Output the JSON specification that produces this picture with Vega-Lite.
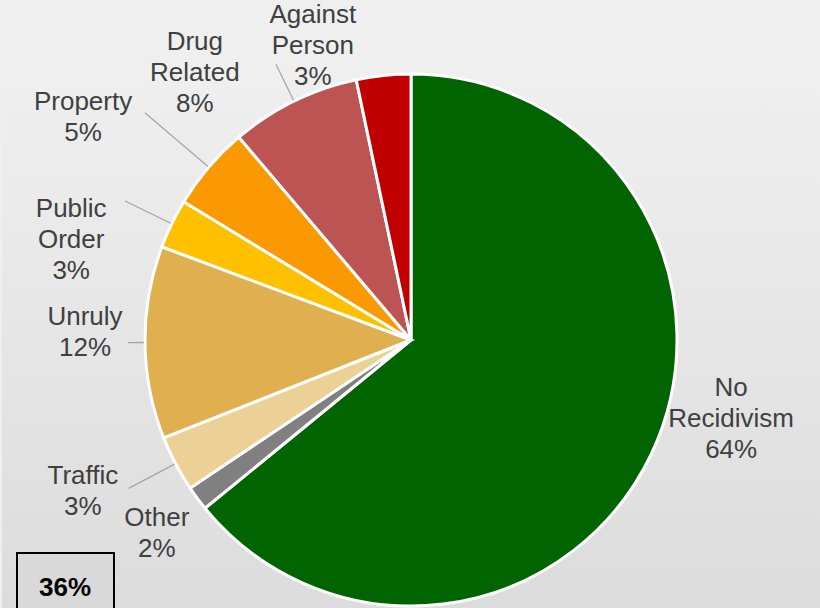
{
  "$schema": "https://vega.github.io/schema/vega-lite/v6.json",
  "width": 818,
  "height": 536,
  "autosize": {"type": "none"},
  "padding": {"left": 2, "top": 72, "right": 0, "bottom": 0},
  "background": "#efefef",
  "view": {
    "stroke": null,
    "fill": {
      "gradient": "linear",
      "x1": 0, "y1": 0, "x2": 0, "y2": 1,
      "stops": [
        {"offset": 0, "color": "#efefef"},
        {"offset": 1, "color": "#dcdcdc"}
      ]
    }
  },
  "config": {"legend": {"strokeWidth": 2}},
  "datasets": {
    "slices": [
      {"category": "No Recidivism", "value": 64.1, "order": 1, "label": "No Recidivism 64%"},
      {"category": "Other", "value": 1.5, "order": 2, "label": "Other 2%"},
      {"category": "Traffic", "value": 3.4, "order": 3, "label": "Traffic 3%"},
      {"category": "Unruly", "value": 11.7, "order": 4, "label": "Unruly 12%"},
      {"category": "Public Order", "value": 3.0, "order": 5, "label": "Public Order 3%"},
      {"category": "Property", "value": 5.1, "order": 6, "label": "Property 5%"},
      {"category": "Drug Related", "value": 7.9, "order": 7, "label": "Drug Related 8%"},
      {"category": "Against Person", "value": 3.3, "order": 8, "label": "Against Person 3%"}
    ],
    "total": [
      {"total": "36%"}
    ]
  },
  "layer": [
    {
      "data": {"name": "slices"},
      "mark": {"type": "arc", "outerRadius": 266, "stroke": "#ffffff", "strokeWidth": 3},
      "encoding": {
        "theta": {"field": "value", "type": "quantitative", "stack": true},
        "order": {"field": "order", "type": "quantitative"},
        "color": {
          "field": "category",
          "type": "nominal",
          "legend": null,
          "scale": {
            "domain": ["No Recidivism", "Other", "Traffic", "Unruly", "Public Order", "Property", "Drug Related", "Against Person"],
            "range": ["#006400", "#808080", "#ebd196", "#dfaf50", "#ffc000", "#fb9902", "#bd5454", "#c00000"]
          }
        }
      }
    },
    {
      "data": {"name": "slices"},
      "mark": {
        "type": "arc",
        "padAngle": 1.2,
        "innerRadius": 267,
        "outerRadius": {"expr": "datum.category=='Traffic'?319:datum.category=='Unruly'?283:datum.category=='Public Order'?318:datum.category=='Property'?350:307"},
        "fill": "#a6a6a6",
        "fillOpacity": 0,
        "stroke": "#a6a6a6",
        "strokeWidth": 1.3,
        "strokeOpacity": {"expr": "indexof(['Traffic','Unruly','Public Order','Property','Drug Related'], datum.category) >= 0 ? 1 : 0"}
      },
      "encoding": {
        "theta": {"field": "value", "type": "quantitative", "stack": true},
        "order": {"field": "order", "type": "quantitative"}
      }
    },
    {
      "data": {"name": "slices"},
      "mark": {
        "type": "text",
        "radius": 330,
        "font": "Liberation Sans",
        "fontSize": 26,
        "color": "#404040",
        "lineBreak": " ",
        "lineHeight": 31,
        "align": "center",
        "baseline": "middle",
        "dx": {"expr": "datum.category=='No Recidivism'?22:datum.category=='Other'?11:datum.category=='Traffic'?-36:datum.category=='Unruly'?4:datum.category=='Public Order'?-43:datum.category=='Property'?-77:datum.category=='Drug Related'?-71:-64"},
        "dy": {"expr": "datum.category=='No Recidivism'?-93:datum.category=='Other'?-18:datum.category=='Traffic'?-17:datum.category=='Unruly'?-26:datum.category=='Public Order'?13:datum.category=='Property'?-24:datum.category=='Drug Related'?-2:3"}
      },
      "encoding": {
        "theta": {"field": "value", "type": "quantitative", "stack": true},
        "order": {"field": "order", "type": "quantitative"},
        "text": {"field": "label", "type": "nominal"}
      }
    },
    {
      "data": {"name": "total"},
      "mark": {"type": "point", "opacity": 0},
      "encoding": {
        "shape": {
          "field": "total",
          "type": "nominal",
          "legend": {
            "orient": "none",
            "legendX": 15,
            "legendY": 481,
            "title": null,
            "fillColor": "#d9d9d9",
            "strokeColor": "#000000",
            "padding": 22,
            "symbolSize": 0,
            "symbolOpacity": 0,
            "symbolStrokeWidth": 0,
            "labelOffset": -26,
            "labelFont": "Liberation Sans",
            "labelFontSize": 26,
            "labelFontWeight": "bold",
            "labelColor": "#000000"
          }
        }
      }
    }
  ]
}
